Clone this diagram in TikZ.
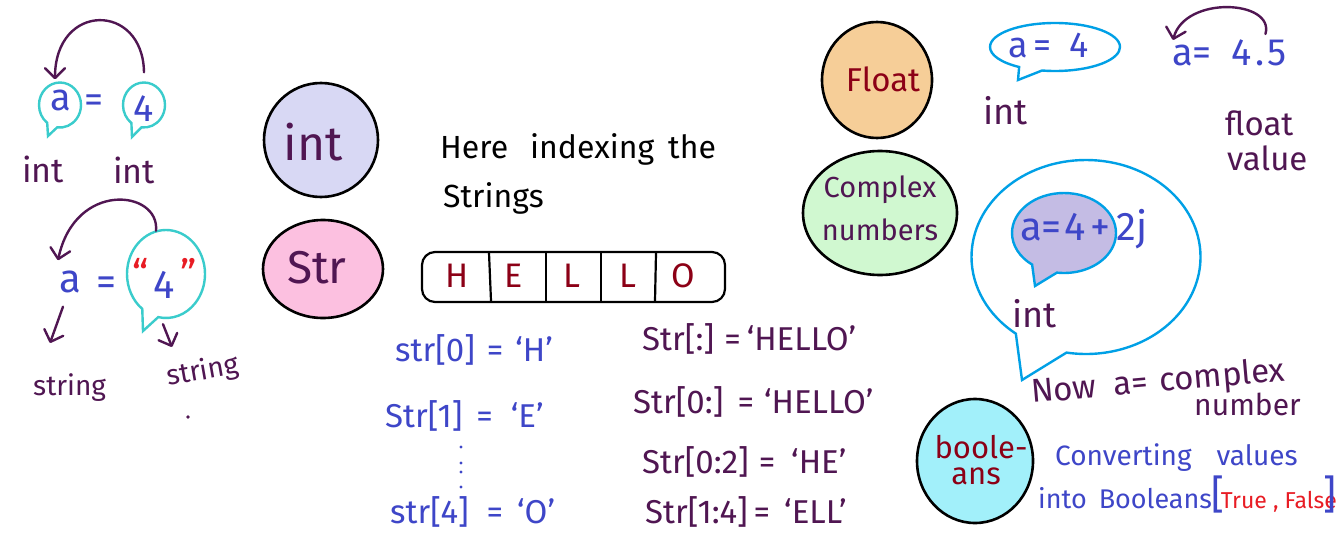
\documentclass[tikz,border=0pt]{standalone}
\usepackage{fontspec}
\setmainfont{Fira Sans}
\usetikzlibrary{shapes.geometric,shapes.callouts,arrows.meta}
\definecolor{P}{RGB}{80,22,82}
\definecolor{B}{RGB}{62,70,200}
\definecolor{DR}{RGB}{140,0,22}
\definecolor{RD}{RGB}{232,28,36}
\definecolor{TL}{RGB}{58,204,204}
\definecolor{SK}{RGB}{0,160,230}
\definecolor{fInt}{RGB}{216,216,244}
\definecolor{fStr}{RGB}{252,192,224}
\definecolor{fFlt}{RGB}{246,206,152}
\definecolor{fCpx}{RGB}{208,248,208}
\definecolor{fBool}{RGB}{162,240,250}
\definecolor{fIn}{RGB}{196,188,228}
\begin{document}
\begin{tikzpicture}[x=1pt,y=-1pt,
  txt/.style={inner sep=0pt, font=\fontsize{#1}{#1}\selectfont},
  circ/.style={ellipse, draw=black, line width=2.6pt, inner sep=0pt},
  bubT/.style={ellipse callout, draw=TL, line width=2.4pt, inner sep=0pt},
  bubL/.style={ellipse callout, draw=SK, line width=2.4pt, inner sep=0pt},
  harrow/.style={draw=P, line width=2.4pt, line cap=round,
     -{Straight Barb[length=10pt,width=20pt,line cap=round,line join=round]}},
  dv/.style={draw=black, line width=2.2pt}]
\useasboundingbox (0,0) rectangle (1340,551);
\fill[white] (0,0) rectangle (1340,551);

% ---------- top left: a = 4 (int)
\node[bubT, minimum width=42pt, minimum height=45pt, callout absolute pointer={(48,136)}, callout pointer arc=30] (ba) at (60,105) {};
\node[txt=38, text=B, anchor=base] (ta) at (61,110) {a};
\node[txt=38, text=B, anchor=base] (eq1) at (94,112) {=};
\node[bubT, minimum width=42pt, minimum height=45pt, callout absolute pointer={(132,137)}, callout pointer arc=30] (b4) at (144,105) {};
\node[txt=38, text=B, anchor=base] (t4) at (144,121) {4};
\draw[harrow] ([yshift=9pt]b4.north) .. controls (143,2) and (55,2) .. ([xshift=-5pt,yshift=2pt]ba.north);
\node[txt=34, text=P, anchor=base] (i1) at (43,182) {int};
\node[txt=34, text=P, anchor=base] (i2) at (134,183) {int};

% ---------- lower left: a = "4" (string)
\node[txt=40, text=B, anchor=base] (a2) at (70,292) {a};
\node[txt=40, text=B, anchor=base] (eq2) at (106,295) {=};
\node[bubT, minimum width=78pt, minimum height=88pt, callout absolute pointer={(143,331)}, callout pointer arc=26] (b4s) at (166,274) {};
\node[txt=40, text=B, anchor=base] (t4s) at (164,298) {4};
\node[txt=40, text=RD, anchor=base] (q1) at (141,288) {“};
\node[txt=40, text=RD, anchor=base] (q2) at (189,288) {”};
\draw[harrow] ([xshift=-10pt,yshift=-2pt]b4s.north) .. controls (160,190) and (75,180) .. ([shift={(-12pt,10pt)}]a2.north);
\node[txt=28, text=P, anchor=base west] (s1) at (33,395) {string};
\node[txt=28, text=P, anchor=base west, rotate=10] (s2) at (168,386) {string};
\coordinate (tipS1) at (50,343);
\coordinate (tipS2) at (172,347);
\draw[harrow] ([shift={(-7pt,-14pt)}]a2.south) -- (tipS1);
\draw[harrow] ([shift={(-3pt,-5pt)}]b4s.south) -- (tipS2);
\fill[P] (188,417) circle (1.8pt);

% ---------- type circles (middle)
\node[circ, fill=fInt, minimum width=114pt, minimum height=114pt] (cint) at (321,140) {};
\node[txt=48, text=P, anchor=base] (lint) at (313,160) {int};
\node[circ, fill=fStr, minimum width=120pt, minimum height=98pt] (cstr) at (323,269) {};
\node[txt=46, text=P, anchor=base] (lstr) at (317,283) {Str};

% ---------- indexing text
\node[txt=32, anchor=base west] (h1) at (440,158) {Here\hspace{22pt}indexing\hspace{14pt}the};
\node[txt=32, anchor=base west] (h2) at (443,207) {Strings};

% ---------- HELLO box
\node[draw=black, line width=2.2pt, rounded corners=13pt, minimum width=303pt, minimum height=50pt, inner sep=0pt] (hello) at (573.5,277) {};
\draw[dv] (489,253) -- (491,301);
\draw[dv] (546,253) -- (546,301);
\draw[dv] (601,253) -- (601,301);
\draw[dv] (656,253) -- (655,301);
\node[txt=34, text=DR, anchor=base] (lH) at (457,287) {H};
\node[txt=34, text=DR, anchor=base] (lE) at (514,287) {E};
\node[txt=34, text=DR, anchor=base] (lL1) at (572,287) {L};
\node[txt=34, text=DR, anchor=base] (lL2) at (628,287) {L};
\node[txt=34, text=DR, anchor=base] (lO) at (683,287) {O};

% ---------- indexing list (blue)
\node[txt=33, text=B, anchor=base west] (r0) at (395,361) {str[0]\hspace{12pt}=\hspace{12pt}‘H’};
\node[txt=33, text=B, anchor=base west] (r1) at (385,427) {Str[1]\hspace{14pt}=\hspace{18pt}‘E’};
\foreach \yy in {447,463,472,487} \fill[B] (461,\yy) circle (1.6pt);
\node[txt=33, text=B, anchor=base west] (r4) at (390,523) {str[4]\hspace{18pt}=\hspace{14pt}‘O’};

% ---------- slicing list (purple)
\node[txt=33, text=P, anchor=base west] (p1) at (642,350) {Str[:]\hspace{10pt}=\hspace{6pt}‘HELLO’};
\node[txt=33, text=P, anchor=base west] (p2) at (633,413) {Str[0:]\hspace{14pt}=\hspace{10pt}‘HELLO’};
\node[txt=33, text=P, anchor=base west] (p3) at (642,473) {Str[0:2]\hspace{10pt}=\hspace{16pt}‘HE’};
\node[txt=33, text=P, anchor=base west] (p4) at (645,523) {Str[1:4]\hspace{6pt}=\hspace{14pt}‘ELL’};

% ---------- right circles
\node[circ, fill=fFlt, minimum width=110pt, minimum height=116pt] (cflt) at (877,80) {};
\node[txt=33, text=DR, anchor=base] (lflt) at (883,92) {Float};
\node[circ, fill=fCpx, minimum width=154pt, minimum height=124pt] (ccpx) at (880,213) {};
\node[txt=29, text=P, anchor=base] (lcpx1) at (880,197) {Complex};
\node[txt=29, text=P, anchor=base] (lcpx2) at (880,240) {numbers};
\node[circ, fill=fBool, minimum width=116pt, minimum height=124pt] (cbool) at (975,461) {};
\node[txt=31, text=DR, anchor=base] (lb1) at (981,458) {boole-};
\node[txt=31, text=DR, anchor=base] (lb2) at (976,484) {ans};

% ---------- float example
\node[bubL, minimum width=130pt, minimum height=48pt, callout absolute pointer={(1018,80)}, callout pointer arc=22] (bt) at (1055,47) {};
\node[txt=36, text=B, anchor=base west] (tbt) at (1008,57) {a\hspace{6pt}=\hspace{18pt}4};
\node[txt=36, text=P, anchor=base west] (itop) at (983,124) {int};
\node[txt=38, text=B, anchor=base west] (a45) at (1172,65) {a=\hspace{20pt}4\hspace{3pt}.\hspace{3pt}5};
\draw[harrow] ([shift={(-21pt,5pt)}]a45.north east) .. controls (1275,0) and (1185,-5) .. ([xshift=1pt,yshift=-1pt]a45.north west);
\node[txt=33, text=P, anchor=base west] (fv1) at (1225,135) {float};
\node[txt=33, text=P, anchor=base west] (fv2) at (1227,170) {value};

% ---------- complex example
\node[bubL, minimum width=229pt, minimum height=194pt, callout absolute pointer={(1022,380)}, callout pointer arc=28] (bb) at (1086,257) {};
\node[ellipse callout, draw=SK, fill=fIn, line width=2.4pt, inner sep=0pt, minimum width=104pt, minimum height=80pt, callout absolute pointer={(1035,286)}, callout pointer arc=30] (bi) at (1064,233) {};
\node[txt=40, text=B, anchor=base west] (cx) at (1020,240) {a=\hspace{3pt}4\hspace{4pt}+\hspace{6pt}2j};
\node[txt=36, text=P, anchor=base west] (ibb) at (1012,327) {int};
\node[txt=33, text=P, anchor=base west, rotate=5] (now) at (1032,403) {Now\hspace{17pt}a=\hspace{12pt}complex};
\node[txt=30, text=P, anchor=base west] (numb) at (1194,415) {number};

% ---------- booleans example
\node[txt=28, text=B, anchor=base west] (cv1) at (1055,465) {Converting\hspace{25pt}values};
\node[txt=27, text=B, anchor=base west] (cv2) at (1038,508) {into\hspace{12pt}Booleans\hspace{-1pt}{\fontsize{40}{40}\selectfont[}\hspace{-3pt}{\color{RD}\fontsize{23}{23}\selectfont True , False}\hspace{-13pt}{\fontsize{40}{40}\selectfont]}};
\end{tikzpicture}
\end{document}
